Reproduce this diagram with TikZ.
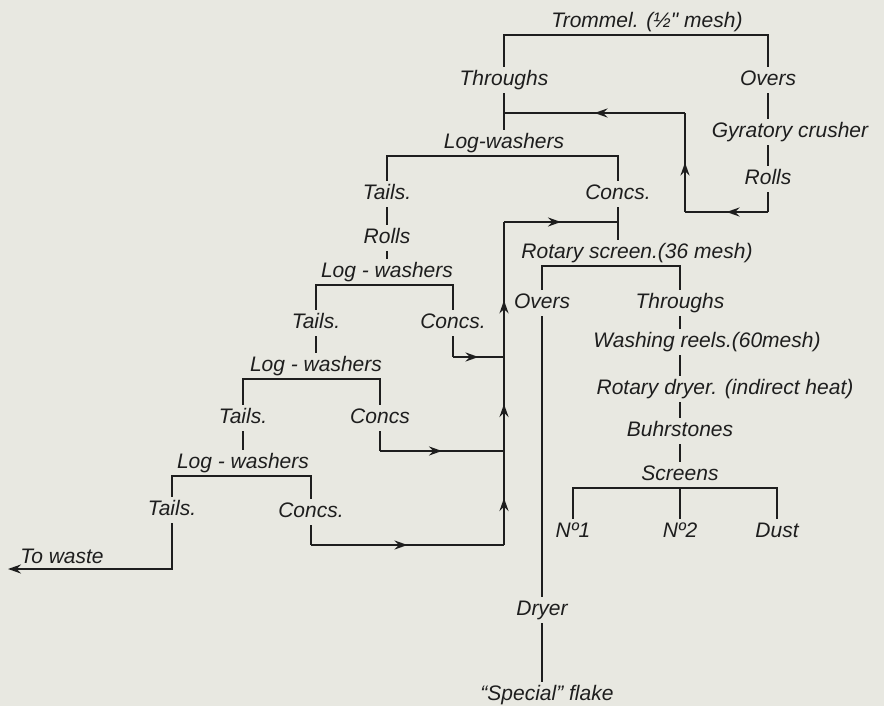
\documentclass[tikz,border=0pt]{standalone}
\usepackage{fontspec}
\setmainfont{Liberation Sans}
\usetikzlibrary{arrows.meta,decorations.markings}
\definecolor{cInk}{HTML}{1E1E1E}
\definecolor{cPaper}{HTML}{E8E8E1}
\tikzset{
  pipe/.style={line width=1.25pt,draw=cInk},
  flow/.style={pipe,-{Stealth[length=6.5pt,width=4.5pt]}},
  midarrow/.style={pipe,postaction={decorate},
                   decoration={markings,mark=at position #1 with {\arrow{Stealth[length=6.5pt,width=4.5pt]}}}},
  midarrow/.default=0.5,
  stage/.style={font=\fontsize{10.5}{12}\selectfont\itshape,text=cInk,inner sep=1.5pt,
                text height=7.5pt,text depth=2.2pt}
}
\begin{document}
\begin{tikzpicture}[x=0.5pt,y=-0.5pt]
  \fill[cPaper] (0,0) rectangle (884,706);
  \useasboundingbox (0,0) rectangle (884,706);

  \node[stage] (trommel) at (647,22) {Trommel. (½\textquotedbl\ mesh)};
  \node[stage] (throughs1) at (504,80) {Throughs};
  \node[stage] (overs1) at (768,80) {Overs};
  \node[stage] (gyr) at (790,132) {Gyratory crusher};
  \node[stage] (rolls1) at (768,179) {Rolls};
  \node[stage] (lw1) at (504,143) {Log-washers};
  \node[stage] (tails1) at (387,194) {Tails.};
  \node[stage] (rolls2) at (387,238) {Rolls};
  \node[stage] (lw2) at (387,272) {Log - washers};
  \node[stage] (concs1) at (618,194) {Concs.};
  \node[stage] (tails2) at (316,323) {Tails.};
  \node[stage] (concs2) at (453,323) {Concs.};
  \node[stage] (lw3) at (316,366) {Log - washers};
  \node[stage] (tails3) at (243,418) {Tails.};
  \node[stage] (concs3) at (380,418) {Concs};
  \node[stage] (lw4) at (243,463) {Log - washers};
  \node[stage] (tails4) at (172,510) {Tails.};
  \node[stage] (concs4) at (311,512) {Concs.};
  \node[stage] (towaste) at (62,558) {To waste};
  \node[stage] (rotary) at (637,253) {Rotary screen.(36 mesh)};
  \node[stage] (overs2) at (542,303) {Overs};
  \node[stage] (throughs2) at (680,303) {Throughs};
  \node[stage] (washing) at (707,342) {Washing reels.(60mesh)};
  \node[stage] (rdryer) at (725,389) {Rotary dryer. (indirect heat)};
  \node[stage] (buhr) at (680,431) {Buhrstones};
  \node[stage] (screens) at (680,475) {Screens};
  \node[stage] (no1) at (573,532) {Nº1};
  \node[stage] (no2) at (680,532) {Nº2};
  \node[stage] (dust) at (777,532) {Dust};
  \node[stage] (dryer) at (542,610) {Dryer};
  \node[stage] (special) at (547,695) {“Special” flake};

  \coordinate (r1) at (768,212);
  \coordinate (r2) at (685,212);
  \coordinate (r3) at (685,113);
  \coordinate (r4) at (504,113);
  \coordinate (jt) at (504,222);
  \coordinate (jc) at (618,222);
  \coordinate (j2) at (504,357);
  \coordinate (j3) at (504,451);
  \coordinate (j4) at (504,545);
  \coordinate (waste) at (8,569);

  \draw[pipe] (throughs1) |- (trommel.south) -| (overs1);
  \draw[pipe] (overs1) -- (overs1 |- gyr.north);
  \draw[pipe] (overs1 |- gyr.south) -- (rolls1);
  \draw[pipe] (rolls1) -- (r1);
  \draw[midarrow] (r1) -- (r2);
  \draw[midarrow] (r2) -- (r3);
  \draw[midarrow] (r3) -- (r4);
  \draw[pipe] (throughs1) -- (lw1);

  \draw[pipe] (tails1) |- (lw1.south) -| (concs1);
  \draw[pipe] (tails1) -- (rolls2);
  \draw[pipe] (rolls2) -- (lw2);
  \draw[pipe] (tails2) |- (lw2.south) -| (concs2);
  \draw[pipe] (tails2) -- (lw3);
  \draw[pipe] (tails3) |- (lw3.south) -| (concs3);
  \draw[pipe] (tails3) -- (lw4);
  \draw[pipe] (tails4) |- (lw4.south) -| (concs4);
  \draw[flow] (tails4) |- (waste);

  \draw[pipe] (concs2) -- (concs2 |- j2);
  \draw[midarrow] (concs2 |- j2) -- (j2);
  \draw[pipe] (concs3) -- (concs3 |- j3);
  \draw[midarrow] (concs3 |- j3) -- (j3);
  \draw[pipe] (concs4) -- (concs4 |- j4);
  \draw[midarrow] (concs4 |- j4) -- (j4);
  \draw[midarrow] (j4) -- (j3);
  \draw[midarrow] (j3) -- (j2);
  \draw[midarrow=0.42] (j2) -- (jt);
  \draw[midarrow] (jt) -- (jc);

  \draw[pipe] (concs1) -- (concs1 |- rotary.north);
  \draw[pipe] (overs2) |- (rotary.south) -| (throughs2);
  \draw[pipe] (overs2) -- (dryer);
  \draw[pipe] (dryer) -- (dryer |- special.north);
  \draw[pipe] (throughs2) -- (throughs2 |- washing.north);
  \draw[pipe] (throughs2 |- washing.south) -- (throughs2 |- rdryer.north);
  \draw[pipe] (throughs2 |- rdryer.south) -- (buhr);
  \draw[pipe] (buhr) -- (screens);
  \draw[pipe] (no1) |- (screens.south) -| (dust);
  \draw[pipe] (screens) -- (no2);
\end{tikzpicture}
\end{document}
